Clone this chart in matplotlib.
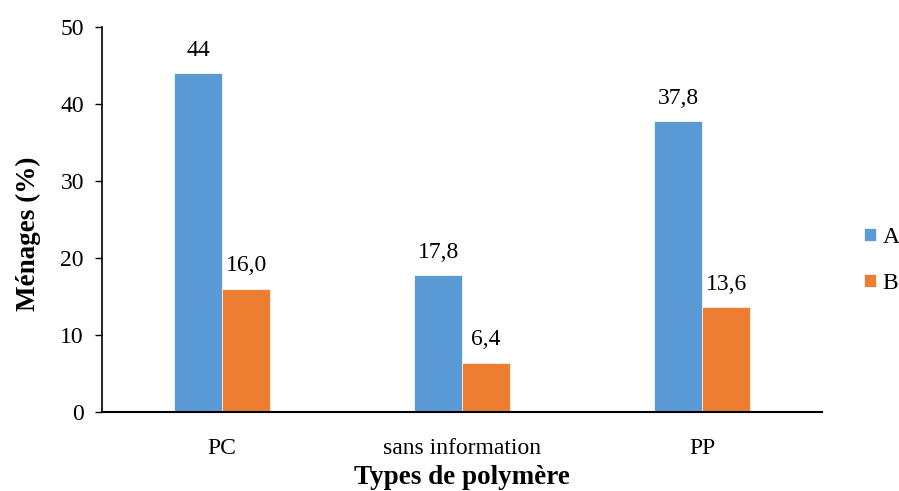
import matplotlib.pyplot as plt
import numpy as np

categories = ["PC", "sans information", "PP"]
serie_a = [44, 17.8, 37.8]
serie_b = [16.0, 6.4, 13.6]
labels_a = ["44", "17,8", "37,8"]
labels_b = ["16,0", "6,4", "13,6"]

plt.rcParams['font.family'] = ['Liberation Serif', 'DejaVu Serif']

fig = plt.figure(figsize=(8.99, 4.91), dpi=100)
ax = fig.add_axes([0.1135, 0.161, 0.801, 0.784])

x = np.arange(len(categories))
w = 0.2
bars_a = ax.bar(x - w / 2, serie_a, w, color='#5B9BD5', edgecolor='white', linewidth=0.5, label='A')
bars_b = ax.bar(x + w / 2, serie_b, w, color='#ED7D31', edgecolor='white', linewidth=0.5, label='B')

for b, t in zip(bars_a, labels_a):
    ax.text(b.get_x() + b.get_width() / 2, b.get_height() + 1.6, t,
            ha='center', va='bottom', fontsize=17)
for b, t in zip(bars_b, labels_b):
    ax.text(b.get_x() + b.get_width() / 2, b.get_height() + 1.6, t,
            ha='center', va='bottom', fontsize=17)

ax.set_xlim(-0.5, 2.5)
ax.set_ylim(0, 50)
ax.set_yticks(range(0, 51, 10))
ax.set_xticks(x)
ax.set_xticklabels(categories, fontsize=17)
ax.tick_params(axis='y', labelsize=17, length=5, width=1, direction='out', pad=8)
ax.tick_params(axis='x', length=0, pad=19)
ax.spines['top'].set_visible(False)
ax.spines['right'].set_visible(False)
ax.spines['left'].set_linewidth(1.2)
ax.spines['bottom'].set_linewidth(1.5)

ax.set_ylabel("Ménages (%)", fontsize=19.5, fontweight='bold')
ax.yaxis.set_label_coords(-0.085, 0.462)
ax.set_xlabel("Types de polymère", fontsize=19.5, fontweight='bold', labelpad=4)

fig.legend(handles=[bars_a, bars_b], labels=['A', 'B'], loc='center left',
           bbox_to_anchor=(0.961, 0.47), frameon=False, fontsize=17,
           handlelength=0.5, handleheight=0.5, handletextpad=0.3, labelspacing=1.05,
           borderaxespad=0, borderpad=0)

fig.savefig("out.png", dpi=100)
